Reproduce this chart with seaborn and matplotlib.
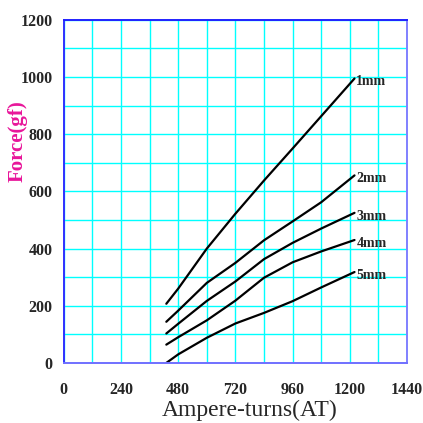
import numpy as np
import pandas as pd
import matplotlib
matplotlib.use("Agg")
import matplotlib.pyplot as plt
import seaborn as sns

# Ampere-turns where each curve was read
ampere_turns = [430, 480, 600, 720, 840, 960, 1080, 1220]

# Force (gf) per air gap
force_1mm = [207, 260, 400, 522, 638, 750, 863, 995]
force_2mm = [144, 183, 280, 350, 429, 495, 562, 656]
force_3mm = [103, 137, 217, 285, 363, 420, 470, 525]
force_4mm = [64, 90, 149, 218, 298, 352, 390, 430]
force_5mm = [0, 30, 88, 138, 175, 216, 264, 318]

gap_labels = ["1mm", "2mm", "3mm", "4mm", "5mm"]
x_ticks = [0, 240, 480, 720, 960, 1200, 1440]
y_ticks = [0, 200, 400, 600, 800, 1000, 1200]

all_forces = [force_1mm, force_2mm, force_3mm, force_4mm, force_5mm]
rows = []
for gap, vals in zip(gap_labels, all_forces):
    for at, f in zip(ampere_turns, vals):
        rows.append({"AT": at, "Force": f, "Gap": gap})
df = pd.DataFrame(rows)

sns.set_style("white")
plt.rcParams['font.family'] = ['Liberation Serif', 'DejaVu Serif']

fig = plt.figure(figsize=(4.23, 4.23), dpi=100)
ax = fig.add_axes([0.151, 0.142, 0.811, 0.811])

sns.lineplot(data=df, x="AT", y="Force", hue="Gap", palette=["black"] * 5,
             linewidth=1.6, legend=False, ax=ax)

ax.set_xlim(0, 1440)
ax.set_ylim(0, 1200)
ax.set_xticks(np.arange(0, 1441, 120))
ax.set_yticks(np.arange(0, 1201, 100))
ax.set_xticklabels([str(v) if v in x_ticks else "" for v in range(0, 1441, 120)],
                   fontsize=11.5, fontweight="bold")
ax.set_yticklabels([str(v) if v in y_ticks else "" for v in range(0, 1201, 100)],
                   fontsize=11.5, fontweight="bold")
ax.tick_params(length=0, pad=14, axis="x")
ax.tick_params(length=0, pad=8, axis="y")
ax.grid(True, color="#00ffff", linewidth=1.0)
ax.set_axisbelow(True)

ax.spines["left"].set_color("#3030ff")
ax.spines["top"].set_color("#2020ff")
ax.spines["right"].set_color("#8080ff")
ax.spines["bottom"].set_color("#7070ff")
for s in ax.spines.values():
    s.set_linewidth(1.4)

# curve labels at the line ends
for gap, vals in zip(gap_labels, all_forces):
    ax.text(ampere_turns[-1] + 8, vals[-1] - 12, gap, fontsize=10,
            fontweight="bold", ha="left", va="center")

ax.set_xlabel("Ampere-turns(AT)", fontsize=17)
ax.xaxis.set_label_coords(0.542, -0.108)
ax.set_ylabel("Force(gf)", fontsize=15, fontweight="bold", color="#e8169a")
ax.yaxis.set_label_coords(-0.134, 0.647)
ax.yaxis.label.set_va("center")

fig.savefig("out.png", dpi=100)
